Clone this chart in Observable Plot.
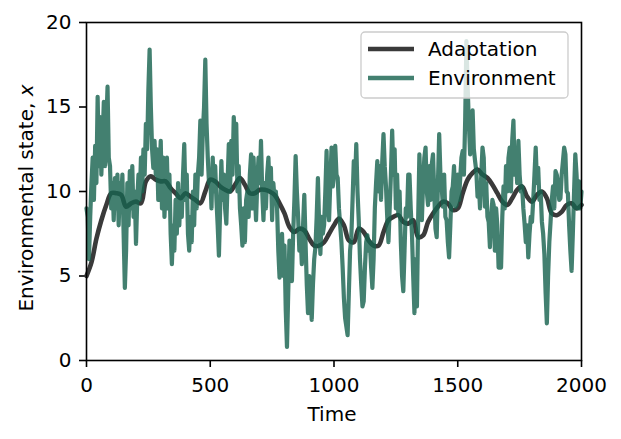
<!DOCTYPE html>
<html>
<head>
<meta charset="utf-8">
<script src="https://cdn.jsdelivr.net/npm/d3@7"></script>
<script src="https://cdn.jsdelivr.net/npm/@observablehq/plot@0.6"></script>
<style>
  html, body { margin: 0; padding: 0; background: #fff; }
  #chart { width: 621px; height: 439px; }
</style>
</head>
<body>
<div id="chart"></div>
<script>
// ---- data ----
const xTicks = [0, 500, 1000, 1500, 2000];
const yTicks = [0, 5, 10, 15, 20];
const seriesNames = ["Adaptation", "Environment"];

// Environment: sampled every 5 time units, t = 0 ... 2000
const envStep = 5;
const envValues = [
  9.0, 8.5, 6.0, 8.5, 10.5, 12.0, 9.5, 12.7, 10.5, 15.6, 11.5, 14.4, 11.0, 13.0, 15.3, 11.5, 14.0, 16.2, 12.0, 11.5, 9.0,
  10.5, 8.3, 10.8, 9.0, 11.0, 8.0, 10.5, 9.5, 11.0, 7.5, 4.3, 6.5, 10.5, 8.0, 11.2, 9.0, 11.5, 8.5, 10.0, 6.9,
  9.5, 11.0, 9.5, 12.0, 10.0, 12.5, 11.0, 14.0, 12.5, 16.0, 18.4, 15.0, 12.5, 11.4, 13.0, 11.0, 12.5, 9.5, 11.0, 13.0,
  9.0, 12.0, 8.5, 10.5, 12.0, 9.0, 11.0, 7.5, 5.7, 8.0, 6.5, 9.5, 7.5, 10.5, 8.0, 10.0, 8.5, 11.0, 12.8, 9.5,
  11.0, 7.5, 6.5, 8.5, 7.0, 10.0, 8.0, 11.0, 9.0, 11.0, 12.0, 14.2, 11.0, 13.5, 15.0, 17.8, 14.0, 12.0, 10.5, 11.0,
  9.0, 12.0, 10.0, 11.5, 9.5, 8.0, 6.2, 9.0, 11.8, 9.5, 11.0, 9.0, 8.1, 10.5, 12.8, 10.0, 13.0, 11.0, 14.4, 12.5,
  14.0, 10.0, 11.5, 9.0, 8.0, 6.8, 9.0, 7.0, 9.5, 10.0, 8.5, 11.0, 12.2, 9.0, 12.0, 10.0, 8.3, 10.5, 12.0, 10.5,
  13.0, 10.0, 8.3, 10.5, 9.0, 11.0, 12.0, 10.0, 11.4, 8.3, 10.5, 9.5, 10.0, 9.0, 6.5, 4.9, 6.0, 7.5, 5.0, 6.8,
  3.0, 0.8, 4.0, 7.1, 6.0, 4.7, 7.5, 9.5, 12.1, 10.0, 8.5, 6.5, 7.5, 5.7, 8.0, 9.8, 7.0, 4.5, 2.8, 5.0,
  4.0, 2.4, 4.5, 6.0, 6.7, 8.5, 10.8, 8.0, 6.3, 8.5, 7.5, 8.0, 10.0, 12.4, 9.0, 8.3, 10.5, 12.6, 10.3, 11.0,
  12.7, 11.0, 10.8, 9.0, 8.0, 7.0, 5.5, 3.7, 2.5, 2.0, 1.5, 4.0, 6.5, 7.3, 9.5, 11.8, 10.5, 12.8, 10.0, 8.3,
  6.0, 4.5, 3.2, 3.5, 5.5, 7.0, 7.4, 6.5, 7.0, 5.5, 4.3, 6.0, 9.0, 10.5, 11.8, 10.0, 11.5, 9.5, 11.8, 13.4,
  11.5, 10.3, 8.5, 7.0, 9.0, 11.0, 13.6, 11.0, 12.5, 9.0, 11.0, 8.6, 10.0, 7.0, 5.0, 4.1, 6.5, 9.0, 8.5, 11.0,
  11.0, 9.0, 7.5, 5.0, 2.8, 6.0, 3.2, 8.3, 12.2, 10.0, 8.3, 10.5, 12.0, 12.6, 10.0, 9.2, 11.5, 9.5, 11.6, 12.2,
  10.0, 7.8, 7.3, 10.5, 13.4, 11.0, 10.3, 9.1, 11.0, 8.5, 8.3, 7.0, 6.1, 8.0, 10.0, 10.3, 11.5, 9.1, 9.2, 11.0,
  9.5, 10.8, 12.0, 12.4, 11.0, 14.2, 18.9, 16.2, 14.0, 12.2, 13.5, 14.8, 12.5, 11.8, 11.2, 9.7, 10.5, 9.0, 11.0, 12.6,
  12.0, 9.1, 10.5, 8.5, 8.2, 6.7, 8.5, 9.5, 9.2, 6.5, 9.0, 8.0, 5.5, 7.0, 5.5, 8.5, 10.3, 9.0, 11.5, 10.0,
  12.0, 12.6, 10.0, 13.0, 14.2, 11.0, 12.2, 10.5, 13.0, 11.0, 10.0, 10.3, 9.0, 8.1, 7.0, 8.0, 6.1, 7.5, 8.5, 8.2,
  9.5, 11.0, 12.6, 10.5, 11.4, 9.5, 10.0, 8.2, 7.5, 6.3, 4.0, 2.2, 5.0, 7.0, 8.2, 9.5, 10.3, 9.0, 11.2, 11.0,
  10.5, 9.5, 9.6, 11.0, 11.8, 12.6, 12.2, 10.0, 9.9, 8.0, 6.5, 5.3, 7.5, 10.0, 12.2, 11.0, 9.0, 10.6, 9.0, 10.0
];

// Adaptation: sampled every 20 time units, t = 0 ... 2000
const adaptStep = 20;
const adaptValues = [
  5.0, 5.8, 7.2, 8.3, 9.2, 9.9, 9.9, 9.8, 9.1, 9.3,
  9.4, 9.3, 10.6, 10.9, 10.7, 10.6, 10.6, 10.2, 9.9, 9.6,
  9.9, 9.7, 9.5, 9.3, 10.0, 10.7, 10.6, 10.3, 10.1, 10.0,
  10.4, 10.8, 10.4, 9.9, 9.9, 10.1, 10.1, 10.0, 9.8, 9.3,
  8.7, 7.9, 7.6, 7.8, 7.7, 7.2, 6.8, 6.8, 7.0, 7.5,
  8.0, 8.4, 8.0, 7.1, 7.0, 7.8, 7.6, 7.1, 6.8, 6.8,
  7.6, 8.3, 8.5, 8.6, 8.2, 8.1, 8.3, 7.3, 7.4, 8.2,
  8.7, 9.1, 9.4, 9.3, 8.9, 9.0, 9.9, 10.7, 11.1, 11.3,
  11.0, 10.8, 10.4, 9.9, 9.4, 9.2, 9.6, 10.1, 10.3, 9.7,
  9.4, 9.8, 10.0, 9.6, 8.7, 8.6, 8.8, 9.2, 9.3, 9.0,
  9.2
];

const envData = envValues.map((v, i) => ({t: i * envStep, v}));
const adaptData = adaptValues.map((v, i) => ({t: i * adaptStep, v}));

const envColor = "#18624f";
const adaptColor = "#3a3a3a";
const FONT = "DejaVu Sans";
const FS = 20;

const chart = Plot.plot({
  width: 621,
  height: 439,
  marginLeft: 86,
  marginRight: 40,
  marginTop: 22,
  marginBottom: 79,
  style: {fontFamily: FONT, fontSize: FS + "px", color: "#000", background: "#fff"},
  x: {domain: [0, 2000]},
  y: {domain: [0, 20]},
  marks: [
    Plot.axisX(xTicks, {tickSize: 7, tickPadding: 10, label: null, fontSize: FS, stroke: "#000", strokeWidth: 1.6, tickFormat: d => String(d)}),
    Plot.axisY(yTicks, {tickSize: 7, tickPadding: 8, label: null, fontSize: FS, stroke: "#000", strokeWidth: 1.6, tickFormat: d => String(d)}),
    Plot.line(adaptData, {x: "t", y: "v", stroke: adaptColor, strokeWidth: 4.6, curve: "catmull-rom"}),
    Plot.line(envData, {x: "t", y: "v", stroke: envColor, strokeOpacity: 0.81, strokeWidth: 4.2, strokeLinejoin: "round"}),
    Plot.frame({stroke: "#000", strokeWidth: 1.6})
  ]
});
document.getElementById("chart").appendChild(chart);

// axis titles and legend
const svg = d3.select(chart);
svg.append("text")
  .attr("x", 332).attr("y", 421)
  .attr("text-anchor", "middle")
  .attr("font-family", FONT).attr("font-size", FS).attr("fill", "#000")
  .text("Time");
const yl = svg.append("text")
  .attr("transform", "translate(32.5,198) rotate(-90)")
  .attr("text-anchor", "middle")
  .attr("font-family", FONT).attr("font-size", FS).attr("fill", "#000");
yl.append("tspan").text("Environmental state, ");
yl.append("tspan").attr("font-style", "italic").text("x");

const lg = svg.append("g");
lg.append("rect")
  .attr("x", 361).attr("y", 32).attr("width", 207).attr("height", 66).attr("rx", 4)
  .attr("fill", "#fff").attr("fill-opacity", 0.8)
  .attr("stroke", "#cccccc").attr("stroke-width", 1.3);
const legendItems = [
  {name: seriesNames[0], color: adaptColor, opacity: 1, y: 49},
  {name: seriesNames[1], color: envColor, opacity: 0.81, y: 78}
];
legendItems.forEach(d => {
  lg.append("line")
    .attr("x1", 368).attr("x2", 414).attr("y1", d.y).attr("y2", d.y)
    .attr("stroke", d.color).attr("stroke-opacity", d.opacity).attr("stroke-width", 4.6);
  lg.append("text")
    .attr("x", 428).attr("y", d.y + 7)
    .attr("text-anchor", "start")
    .attr("font-family", FONT).attr("font-size", FS).attr("fill", "#000")
    .text(d.name);
});
</script>
</body>
</html>
